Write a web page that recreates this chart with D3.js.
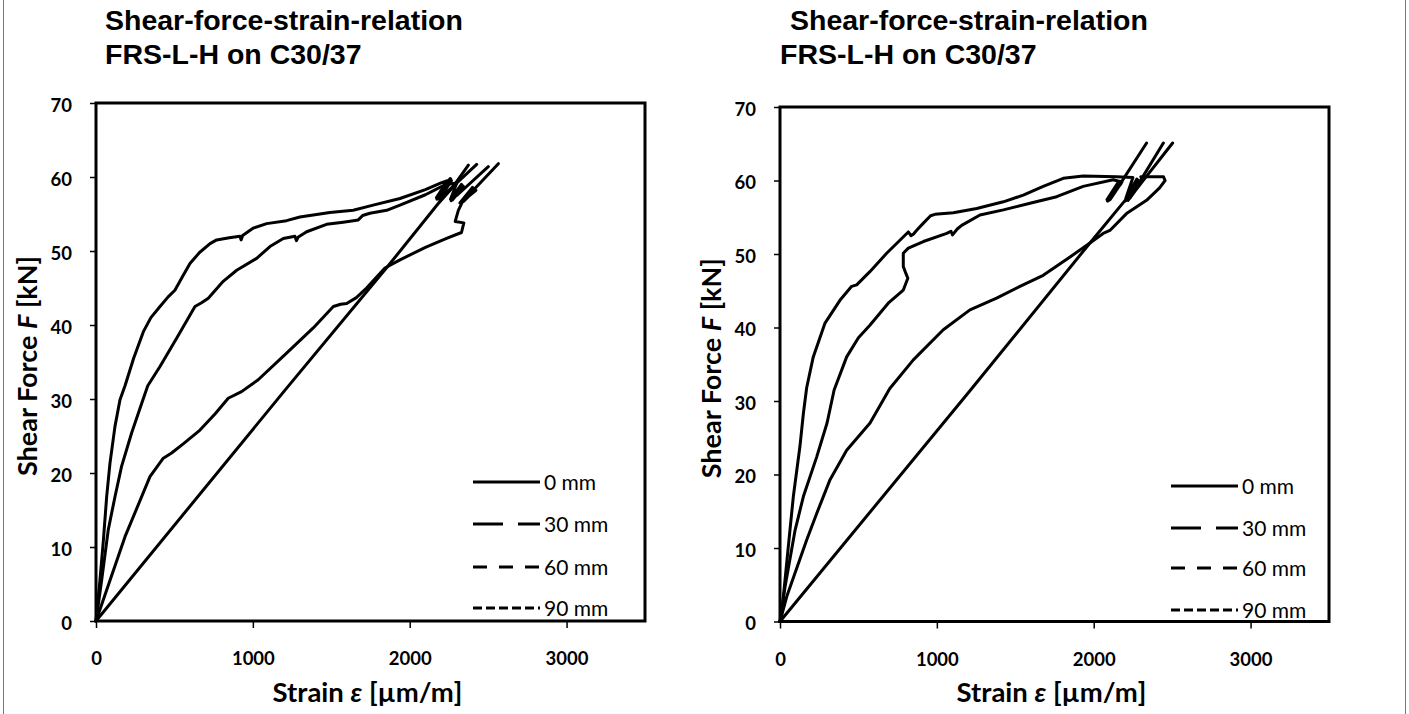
<!DOCTYPE html>
<html><head><meta charset="utf-8">
<script src="https://cdn.jsdelivr.net/npm/d3@7"></script>
<style>body{margin:0;background:#fff}svg{display:block}</style>
</head><body><svg id="c" width="1409" height="714"></svg>
<script>
const seriesNames = ["0 mm", "30 mm", "60 mm", "90 mm"];
const xTicks = [0, 1000, 2000, 3000];
const yTicks = [0, 10, 20, 30, 40, 50, 60, 70];
const titleLines = ["Shear-force-strain-relation", "FRS-L-H on C30/37"];
const xTitle = ["Strain ", "ε", " [µm/m]"];
const yTitle = ["Shear Force ", "F", " [kN]"];

// Left panel: [strain µm/m, shear force kN]
const left0mm = [[0,0],[25,5.5],[47,10.9],[68,16.8],[89,21.3],[121,26.3],[153,29.9],[185,31.8],[240,35.5],[302,39.1],[350,41],[408,42.5],[460,43.8],[503,44.7],[550,46.5],[599,48.3],[660,49.8],[727,51.0],[769,51.5],[850,51.8],[918,52.0],[925,51.5],[935,52.1],[1003,53.1],[1088,53.7],[1215,54.1],[1300,54.6],[1491,55.2],[1640,55.5],[1767,56.2],[1938,57.1],[2100,58.3],[2200,59.2],[2240,59.5],[2170,57.2],[2250,59.6],[2174,57.0],[2254,59.7],[2178,57.3],[2258,59.8],[2182,57.1],[2262,59.7],[2188,57.0],[2266,59.5],[2194,57.2],[2250,59.3],[2200,57.2],[2427,61.7]];
const left30mm = [[0,0],[36,5.5],[78,12.3],[121,16.8],[163,20.9],[227,25.4],[291,29.4],[330,31.8],[408,34.4],[514,38.2],[631,42.5],[673,43.0],[716,43.6],[811,45.9],[897,47.4],[1024,49.0],[1109,50.6],[1194,51.7],[1268,52.0],[1278,51.4],[1290,51.9],[1343,52.6],[1470,53.6],[1576,53.9],[1672,54.2],[1700,54.8],[1746,55.1],[1853,55.5],[1938,56.2],[2100,57.6],[2230,59.0],[2300,59.2],[2260,57.0],[2330,59.0],[2264,56.8],[2334,58.9],[2268,57.0],[2338,58.8],[2272,56.9],[2342,58.7],[2278,57.1],[2350,58.6],[2300,57.5],[2501,61.4]];
const left60mm = [[0,0],[185,11.4],[344,19.5],[429,22.0],[482,22.7],[560,24.0],[663,25.8],[760,28.0],[843,30.1],[928,31.0],[1034,32.6],[1215,36.2],[1385,39.6],[1513,42.5],[1560,42.8],[1598,42.9],[1660,43.7],[1725,45.0],[1842,47.7],[1938,48.8],[2100,50.5],[2235,51.7],[2330,52.5],[2345,53.8],[2290,54.0],[2310,55.5],[2340,56.8],[2320,56.5],[2400,58.6],[2336,56.6],[2406,58.5],[2342,56.7],[2412,58.4],[2348,56.8],[2418,58.3],[2354,57.0],[2422,58.2],[2360,57.2],[2565,61.8]];
const left90mm = [[0,0],[1205,31.2],[1863,48.0],[2200,56.9],[2240,58.0],[2190,56.6],[2270,58.5],[2195,56.8],[2275,58.6],[2200,57.0],[2280,58.8],[2374,61.6]];

// Right panel
const right0mm = [[0,0],[11,1.1],[53,10.2],[85,17.0],[127,23.8],[149,28.3],[170,31.8],[212,36.0],[287,40.6],[382,43.7],[457,45.6],[489,45.8],[573,47.6],[680,50.1],[818,53.0],[835,52.5],[850,52.7],[870,53.2],[914,54.2],[960,55.2],[988,55.4],[1105,55.6],[1254,56.2],[1424,57.1],[1551,58.0],[1678,59.2],[1806,60.3],[1933,60.6],[2146,60.5],[2250,60.4],[2205,57.6],[2275,60.2],[2210,57.3],[2280,60.1],[2215,57.5],[2285,60.0],[2220,57.3],[2290,59.9],[2225,57.5],[2295,59.8],[2230,57.6],[2444,65.1]];
const right30mm = [[0,0],[32,4.7],[96,12.4],[149,17.0],[234,22.4],[300,27.0],[345,31.5],[425,36.0],[500,38.6],[573,40.3],[690,43.3],[786,45.1],[815,46.7],[800,47.5],[786,48.3],[786,50.1],[818,50.8],[914,51.7],[1063,52.8],[1090,53.1],[1100,52.6],[1130,53.4],[1158,53.9],[1275,55.3],[1424,56.0],[1594,56.9],[1764,57.8],[1933,59.2],[2124,60.1],[2160,59.9],[2085,57.4],[2165,59.8],[2088,57.2],[2168,59.9],[2092,57.5],[2172,59.7],[2096,57.3],[2175,59.6],[2100,57.6],[2180,59.8],[2104,57.4],[2337,65.1]];
const right60mm = [[0,0],[43,3.4],[170,11.1],[234,14.7],[319,19.3],[425,23.3],[574,27.0],[700,31.7],[850,35.6],[1041,39.7],[1211,42.4],[1381,44.0],[1530,45.6],[1560,45.9],[1678,47.1],[1849,49.6],[1976,51.5],[2060,52.8],[2103,53.2],[2209,55.5],[2337,57.3],[2420,59.0],[2455,60.0],[2445,60.5],[2300,60.5]];
const right90mm = [[0,0],[1211,31.4],[1976,51.5],[2200,57.3],[2250,58.6],[2200,57.2],[2280,59.3],[2230,57.6],[2300,59.6],[2236,57.8],[2305,59.7],[2503,65.1]];

const legendDash = [null, "30,15", "14,12", "9,4"];

const panels = [
  {series: [left0mm, left30mm, left60mm, left90mm], plot: {l: 96, r: 645, t: 103, b: 621},
   titleX: [105, 105], legendX: 473, legendY: [482, 524, 567, 608], yTitleX: 28},
  {series: [right0mm, right30mm, right60mm, right90mm], plot: {l: 780, r: 1329, t: 107, b: 621.5},
   titleX: [790, 780], legendX: 1171, legendY: [486, 528, 568, 610], yTitleX: 712}
];

const svg = d3.select("#c");
svg.append("rect").attr("width", 1409).attr("height", 714).attr("fill", "#fff");
svg.append("line").attr("x1", 3.5).attr("x2", 3.5).attr("y1", 0).attr("y2", 714).attr("stroke", "#777").attr("stroke-width", 1);
svg.append("line").attr("x1", 1405.5).attr("x2", 1405.5).attr("y1", 0).attr("y2", 714).attr("stroke", "#777").attr("stroke-width", 1);

const tickFont = "Lato, 'Open Sans', sans-serif";

panels.forEach(p => {
  const x = d3.scaleLinear().domain([0, 3500]).range([p.plot.l, p.plot.r]);
  const y = d3.scaleLinear().domain([0, 70]).range([p.plot.b, p.plot.t]);
  const g = svg.append("g");

  titleLines.forEach((t, i) => {
    g.append("text").attr("x", p.titleX[i]).attr("y", 30 + i * 34)
      .attr("font-family", "'Liberation Sans', Arial, sans-serif").attr("font-weight", "bold")
      .attr("font-size", 28.5).attr("fill", "#000").text(t);
  });

  const ax = g.append("g").attr("transform", `translate(0,${p.plot.b})`)
    .call(d3.axisBottom(x).tickValues(xTicks).tickSize(7).tickSizeOuter(0).tickPadding(24).tickFormat(d3.format("d")));
  const ay = g.append("g").attr("transform", `translate(${p.plot.l},0)`)
    .call(d3.axisLeft(y).tickValues(yTicks).tickSize(6).tickSizeOuter(0).tickPadding(18).tickFormat(d3.format("d")));
  [ax, ay].forEach(a => {
    a.select(".domain").remove();
    a.selectAll(".tick line").attr("stroke", "#000").attr("stroke-width", 1.5);
    a.selectAll(".tick text").attr("font-family", tickFont).attr("font-weight", "bold")
      .attr("font-size", 18.5).attr("fill", "#000");
  });
  ay.selectAll(".tick text").attr("dy", "0.45em");

  g.append("rect").attr("x", p.plot.l).attr("y", p.plot.t)
    .attr("width", p.plot.r - p.plot.l).attr("height", p.plot.b - p.plot.t)
    .attr("fill", "none").attr("stroke", "#000").attr("stroke-width", 3);

  const line = d3.line().curve(d3.curveLinear).x(d => x(d[0])).y(d => y(d[1]));
  p.series.forEach(s => {
    g.append("path").datum(s).attr("d", line).attr("fill", "none")
      .attr("stroke", "#000").attr("stroke-width", 3).attr("stroke-linejoin", "round").attr("stroke-linecap", "round");
  });

  seriesNames.forEach((n, i) => {
    const ly = p.legendY[i];
    const l = g.append("line").attr("x1", p.legendX).attr("x2", p.legendX + 67)
      .attr("y1", ly).attr("y2", ly).attr("stroke", "#000").attr("stroke-width", 3);
    if (legendDash[i]) l.attr("stroke-dasharray", legendDash[i]);
    g.append("text").attr("x", p.legendX + 71).attr("y", ly).attr("dy", "0.36em")
      .attr("font-family", tickFont).attr("font-size", 21).attr("fill", "#000").text(n);
  });

  const xt = g.append("text").attr("x", (p.plot.l + p.plot.r) / 2 - 3).attr("y", 702)
    .attr("text-anchor", "middle").attr("font-family", tickFont).attr("font-weight", "bold")
    .attr("font-size", 27.5).attr("fill", "#000");
  xTitle.forEach((t, i) => xt.append("tspan").attr("font-style", i === 1 ? "italic" : null).text(t));

  const yt = g.append("text").attr("transform", `translate(${p.yTitleX},${(p.plot.t + p.plot.b) / 2 + 4}) rotate(-90)`)
    .attr("text-anchor", "middle").attr("dy", "0.35em").attr("font-family", tickFont).attr("font-weight", "bold")
    .attr("font-size", 27).attr("fill", "#000");
  yTitle.forEach((t, i) => yt.append("tspan").attr("font-style", i === 1 ? "italic" : null).text(t));
});
</script></body></html>
